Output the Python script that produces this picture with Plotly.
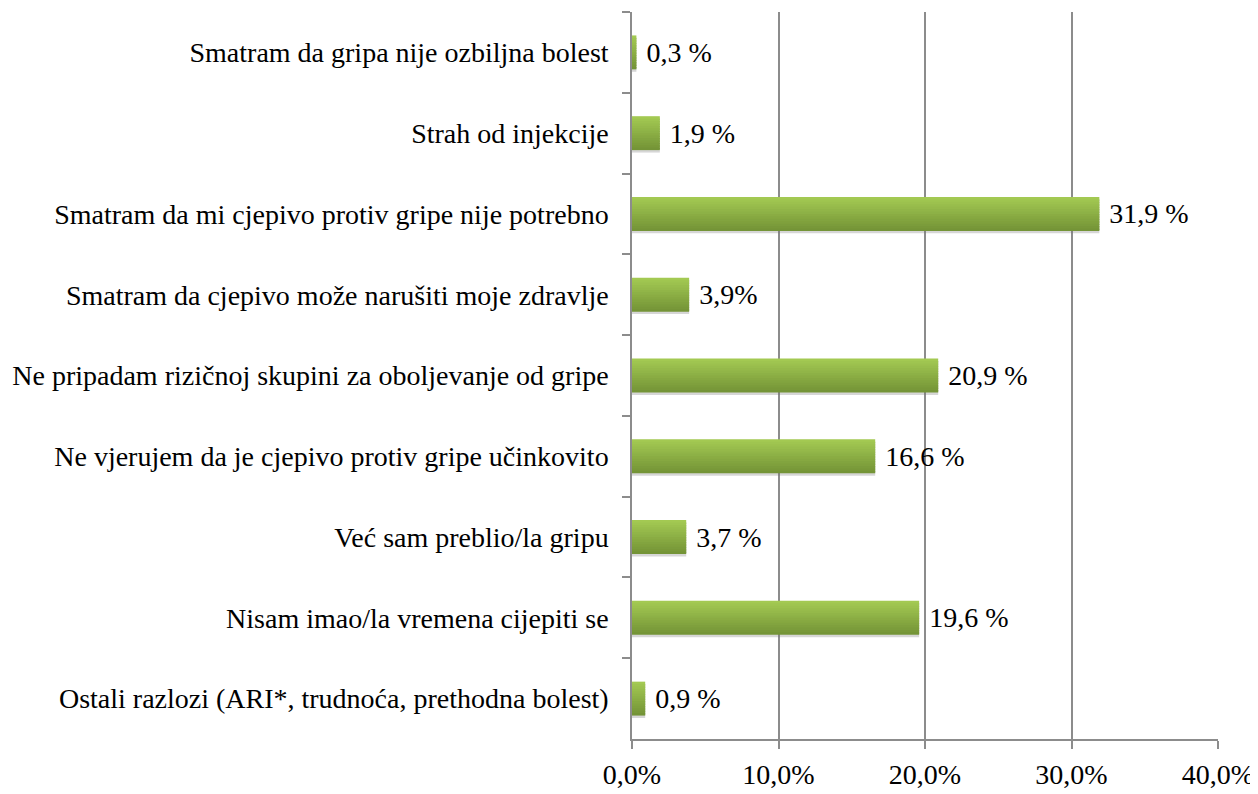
import plotly.graph_objects as go

categories = [
    "Smatram da gripa nije ozbiljna bolest",
    "Strah od injekcije",
    "Smatram da mi cjepivo protiv gripe nije potrebno",
    "Smatram da cjepivo može narušiti moje zdravlje",
    "Ne pripadam rizičnoj skupini za oboljevanje od gripe",
    "Ne vjerujem da je cjepivo protiv gripe učinkovito",
    "Već sam preblio/la gripu",
    "Nisam imao/la vremena cijepiti se",
    "Ostali razlozi (ARI*, trudnoća, prethodna bolest)",
]
values = [0.3, 1.9, 31.9, 3.9, 20.9, 16.6, 3.7, 19.6, 0.9]
labels = ["0,3 %", "1,9 %", "31,9 %", "3,9%", "20,9 %", "16,6 %", "3,7 %", "19,6 %", "0,9 %"]
x_ticks = [0, 10, 20, 30, 40]
x_tick_text = ["0,0%", "10,0%", "20,0%", "30,0%", "40,0%"]

FONT = "Liberation Serif, Times New Roman, serif"
BAR_W = 0.42
N_SLICES = 14
top_col = (163, 201, 82)
bot_col = (116, 148, 55)

fig = go.Figure()

# shadow
fig.add_trace(go.Bar(
    y=categories, x=values, orientation="h",
    width=BAR_W, offset=-BAR_W / 2 + 0.03,
    marker=dict(color="rgba(120,120,120,0.3)", line=dict(width=0)),
    hoverinfo="skip", showlegend=False,
))

# gradient slices
sw = BAR_W / N_SLICES
for i in range(N_SLICES):
    t = i / (N_SLICES - 1)
    c = tuple(round(top_col[k] + (bot_col[k] - top_col[k]) * t) for k in range(3))
    w = sw * 1.6 if i < N_SLICES - 1 else sw
    fig.add_trace(go.Bar(
        y=categories, x=values, orientation="h",
        width=w, offset=-BAR_W / 2 + i * sw,
        marker=dict(color="rgb(%d,%d,%d)" % c, line=dict(width=0)),
        hoverinfo="skip", showlegend=False,
    ))

# labels
fig.add_trace(go.Bar(
    y=categories, x=values, orientation="h",
    width=BAR_W,
    marker=dict(color="rgba(0,0,0,0)", line=dict(width=0)),
    text=labels, texttemplate="\u00a0%{text}", textposition="outside",
    textfont=dict(family=FONT, size=28, color="black"),
    cliponaxis=False, showlegend=False, hoverinfo="skip",
))

fig.update_layout(
    barmode="overlay",
    width=1250, height=786,
    margin=dict(l=623, r=40, t=4, b=46),
    plot_bgcolor="white", paper_bgcolor="white",
    font=dict(family=FONT, size=28, color="black"),
    xaxis=dict(
        range=[0, 40], tickvals=x_ticks, ticktext=x_tick_text,
        showgrid=True, gridcolor="#8c8c8c", gridwidth=1.5,
        showline=True, linecolor="#8c8c8c", linewidth=1.5,
        ticks="outside", ticklen=8, tickcolor="#8c8c8c", tickwidth=1.5,
        zeroline=False, tickfont=dict(family=FONT, size=28),
        ticklabelstandoff=2,
    ),
    yaxis=dict(
        autorange="reversed",
        showline=True, linecolor="#8c8c8c", linewidth=1.5,
        ticks="outside", ticklen=8, tickcolor="#8c8c8c", tickwidth=1.5,
        tickson="boundaries", showgrid=False,
        ticklabelstandoff=16,
        tickfont=dict(family=FONT, size=28),
    ),
)

fig.write_html("out.html")
